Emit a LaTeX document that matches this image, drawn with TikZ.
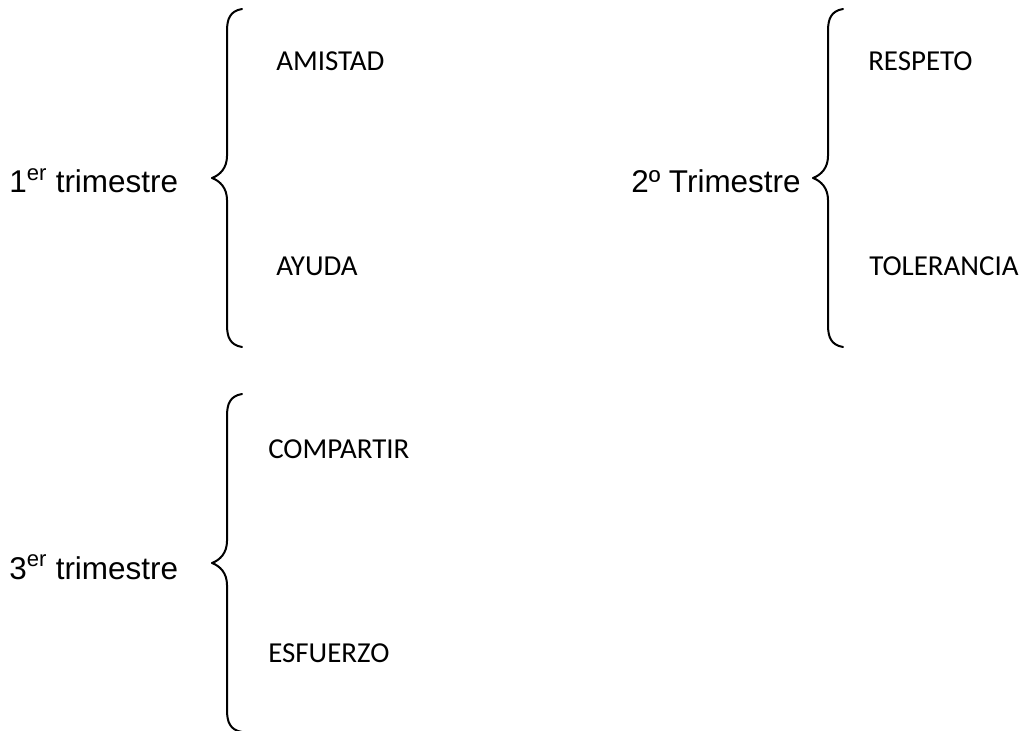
\documentclass[tikz,border=0pt]{standalone}
\usepackage{fontspec}
\setmainfont{Liberation Sans}
\newfontfamily\calibri{Carlito}
\tikzset{
  tema/.style={anchor=base west, inner sep=0pt, font=\fontsize{23.6}{28}\selectfont},
  valor/.style={anchor=base west, inner sep=0pt, font=\calibri\fontsize{21.7}{26}\selectfont},
  llave/.style={line width=1.5pt, line cap=round}
}

\begin{document}
\begin{tikzpicture}[x=0.75pt, y=-0.75pt]
  \useasboundingbox (0,0) rectangle (1024,731);
  % trimestres
  \node[tema] (T1) at (9,193) {1\textsuperscript{er} trimestre};
  \node[tema] (T2) at (631,193) {2º Trimestre};
  \node[tema] (T3) at (9,579) {3\textsuperscript{er} trimestre};
  % valores
  \node[valor] (amistad) at (276,71) {AMISTAD};
  \node[valor] (ayuda) at (276,275) {AYUDA};
  \node[valor] (respeto) at (868,71) {RESPETO};
  \node[valor] (tolerancia) at (869,275) {TOLERANCIA};
  \node[valor] (compartir) at (268,458) {COMPARTIR};
  \node[valor] (esfuerzo) at (268,662) {ESFUERZO};
  % llaves
  \coordinate (L1) at (212,178);
  \coordinate (L2) at (813,178);
  \coordinate (L3) at (212,563);
  \foreach \l in {L1,L2,L3} {
    \draw[llave] (\l) .. controls +(8,-3) and +(0,12) .. ++(15,-22)
      -- ++(0,-125) .. controls +(0,-12) and +(-12,2) .. ++(15,-22);
    \draw[llave] (\l) .. controls +(8,3) and +(0,-12) .. ++(15,22)
      -- ++(0,125) .. controls +(0,12) and +(-12,-2) .. ++(15,22);
  }
\end{tikzpicture}
\end{document}
